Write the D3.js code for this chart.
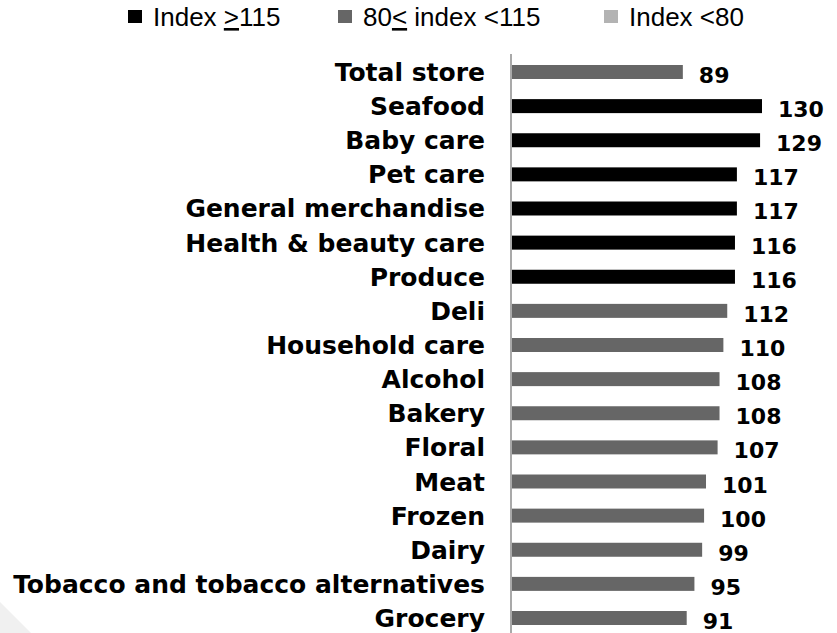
<!DOCTYPE html>
<html>
<head>
<meta charset="utf-8">
<script src="https://cdn.jsdelivr.net/npm/d3@7"></script>
<style>
  body { margin: 0; background: #fff; }
  svg { display: block; }
</style>
</head>
<body>
<div id="chart"></div>
<script>
const WIDTH = 837;
const HEIGHT = 633;

// data
const categories = ["Total store", "Seafood", "Baby care", "Pet care", "General merchandise",
  "Health & beauty care", "Produce", "Deli", "Household care", "Alcohol", "Bakery", "Floral",
  "Meat", "Frozen", "Dairy", "Tobacco and tobacco alternatives", "Grocery"];
const values = [89, 130, 129, 117, 117, 116, 116, 112, 110, 108, 108, 107, 101, 100, 99, 95, 91];
const legendLabels = ["Index ≥115", "80≤ index <115", "Index <80"];
const legendColors = ["#000000", "#666666", "#b3b3b3"];

const data = categories.map((c, i) => ({ name: c, value: values[i] }));

const svg = d3.select("#chart").append("svg")
  .attr("width", WIDTH)
  .attr("height", HEIGHT);

// faint corner decoration
svg.append("path")
  .attr("d", "M0,602 L31,633 L0,633 Z")
  .attr("fill", "#f0f0f0");

const x = d3.scaleLinear().domain([0, 130]).range([511, 762]);
const y = d3.scaleBand().domain(categories).range([65, 625]).paddingInner(0.59).paddingOuter(0);

function colorFor(v) {
  if (v >= 115) return legendColors[0];
  if (v >= 80) return legendColors[1];
  return legendColors[2];
}

// vertical axis line
svg.append("line")
  .attr("x1", x(0)).attr("x2", x(0))
  .attr("y1", 54).attr("y2", HEIGHT)
  .attr("stroke", "#8c8c8c")
  .attr("stroke-width", 1.5);

svg.selectAll(".bar")
  .data(data)
  .enter()
  .append("rect")
  .attr("class", "bar")
  .attr("x", x(0) + 1)
  .attr("y", d => y(d.name))
  .attr("width", d => x(d.value) - x(0) - 1)
  .attr("height", y.bandwidth())
  .attr("fill", d => colorFor(d.value));

// category labels
svg.selectAll(".cat")
  .data(data)
  .enter()
  .append("text")
  .attr("class", "cat")
  .attr("x", 485)
  .attr("y", d => y(d.name) + y.bandwidth() / 2 + 9)
  .attr("text-anchor", "end")
  .style("font-family", "'DejaVu Sans', sans-serif")
  .style("font-weight", "bold")
  .style("font-size", "25px")
  .text(d => d.name);

// value labels
svg.selectAll(".val")
  .data(data)
  .enter()
  .append("text")
  .attr("class", "val")
  .attr("x", d => x(d.value) + 16)
  .attr("y", d => y(d.name) + y.bandwidth() / 2 + 11)
  .style("font-family", "'DejaVu Sans', sans-serif")
  .style("font-weight", "bold")
  .style("font-size", "22px")
  .text(d => d.value);

// legend
const legendX = [128, 338, 604];
const legend = svg.selectAll(".legend")
  .data(legendLabels)
  .enter()
  .append("g")
  .attr("class", "legend")
  .attr("transform", (d, i) => `translate(${legendX[i]},0)`);

legend.append("rect")
  .attr("x", 0).attr("y", 10)
  .attr("width", 14).attr("height", 13)
  .attr("fill", (d, i) => legendColors[i]);

const ltext = legend.append("text")
  .attr("x", 25).attr("y", 26)
  .style("font-family", "'Liberation Sans', Arial, sans-serif")
  .style("font-size", "26px")
  .attr("fill", "#000");

// the ≥ / ≤ signs are an underlined > / <
ltext.each(function(d, i) {
  const t = d3.select(this);
  if (i === 0) {
    t.append("tspan").text("Index ");
    t.append("tspan").style("text-decoration", "underline").text(">");
    t.append("tspan").text("115");
  } else if (i === 1) {
    t.append("tspan").text("80");
    t.append("tspan").style("text-decoration", "underline").text("<");
    t.append("tspan").text(" index <115");
  } else {
    t.text(d);
  }
});
</script>
</body>
</html>
